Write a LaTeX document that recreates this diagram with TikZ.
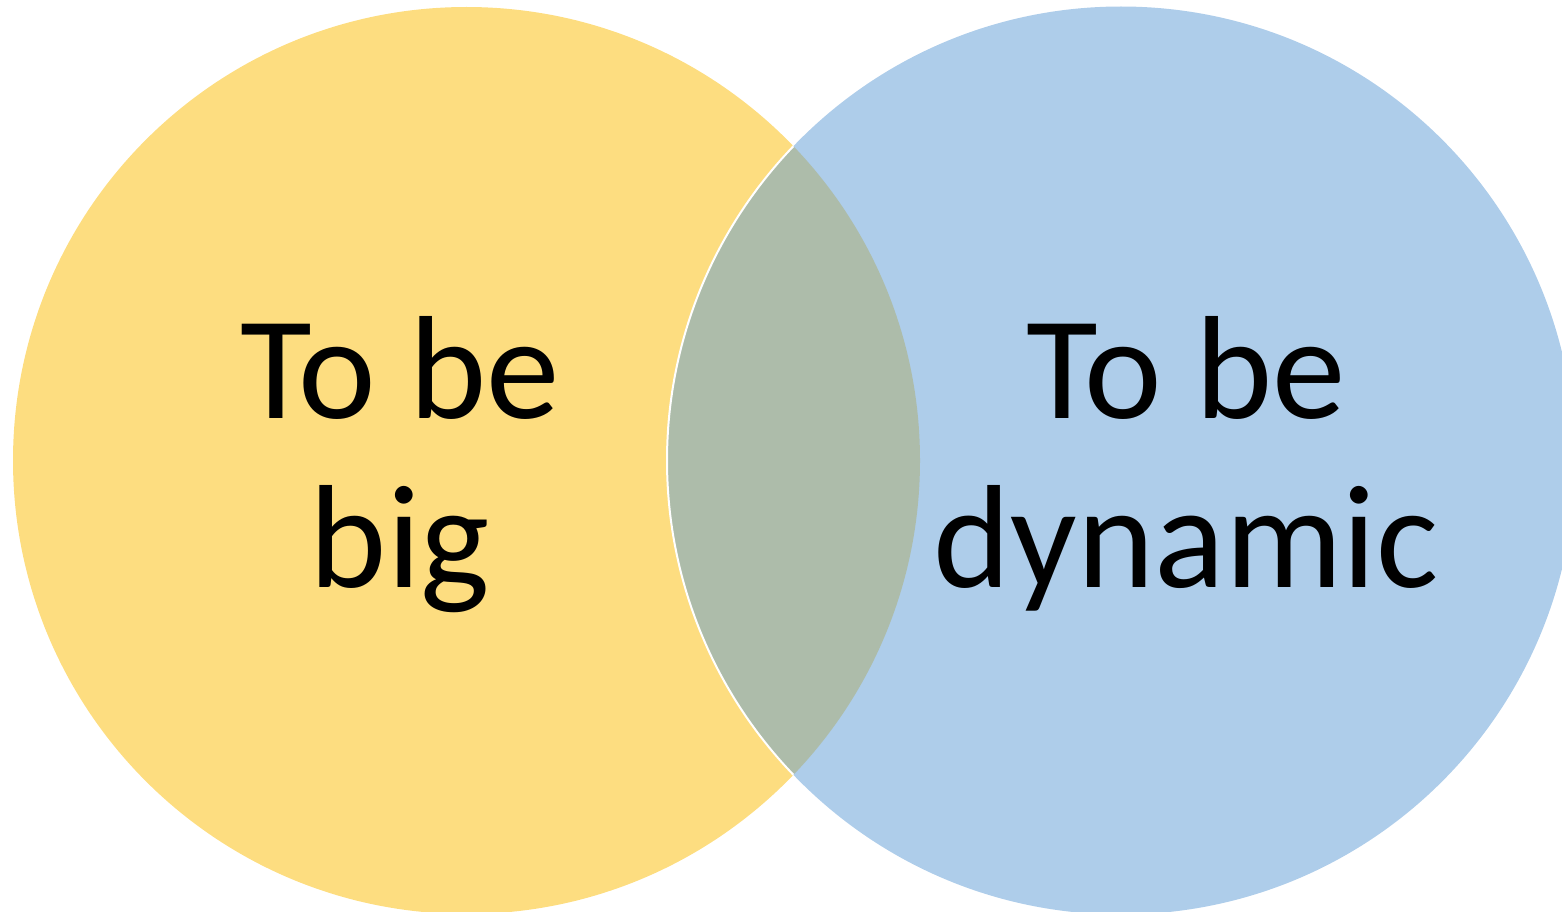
\documentclass[tikz,border=0pt]{standalone}
\usepackage{fontspec}
\setmainfont{Carlito}
\definecolor{venyellow}{HTML}{FDDD80}
\definecolor{venblue}{HTML}{AECDEA}
\definecolor{venmix}{HTML}{ADBCAA}
\tikzset{
  vlabel/.style={align=center, font=\fontsize{147}{169}\selectfont, inner sep=0pt, anchor=base}
}
\begin{document}
\begin{tikzpicture}[x=1pt,y=-1pt]
\useasboundingbox (0,0) rectangle (1562,912);
\begin{scope}
\clip (0,0) rectangle (1562,912);
\fill[venyellow] (466.5,460.5) circle (453.5);
\fill[venblue] (1121,460.5) circle (454);
\begin{scope}
\clip (466.5,460.5) circle (453.5);
\fill[venmix] (1121,460.5) circle (454);
\draw[white, line width=2pt] (1121,460.5) circle (454);
\end{scope}
\end{scope}
\node[vlabel] (big) at (400,587) {To be\\big};
\node[vlabel] (dyn) at (1186,587) {To be\\dynamic};
\end{tikzpicture}
\end{document}
